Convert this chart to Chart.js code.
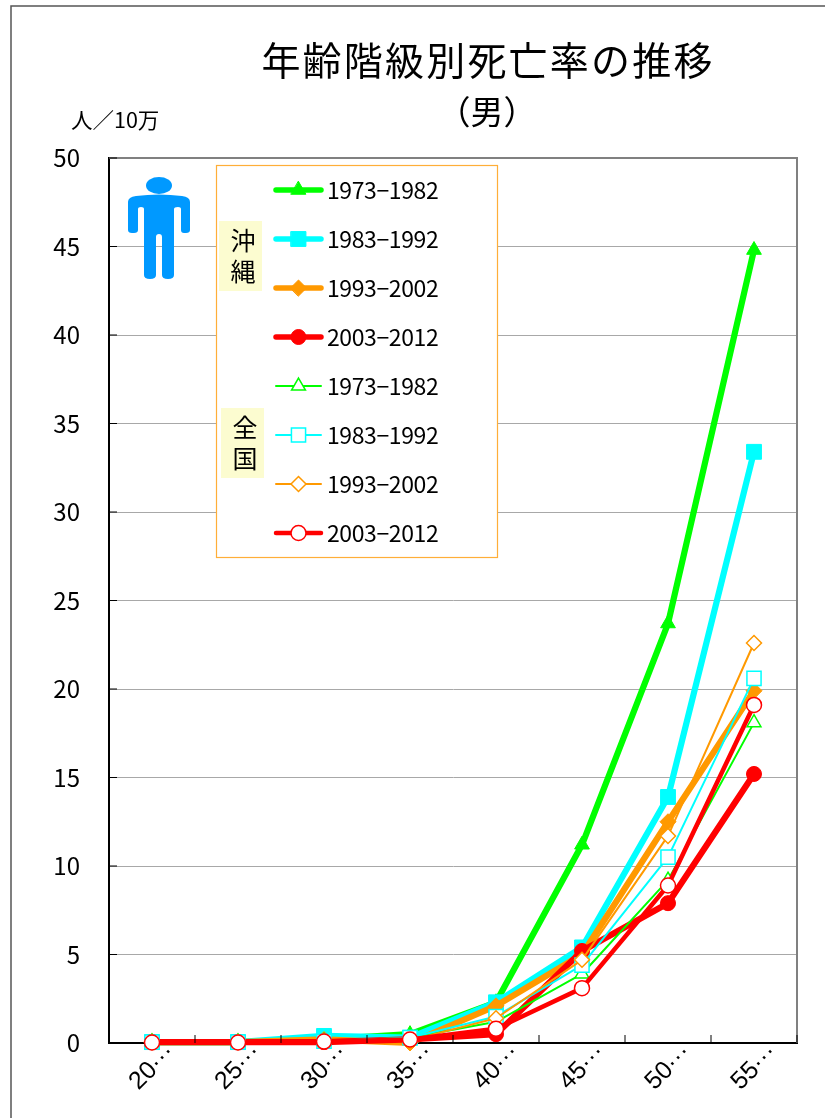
<!DOCTYPE html>
<html lang="ja">
<head>
<meta charset="utf-8">
<title>年齢階級別死亡率の推移</title>
<script src="https://cdn.jsdelivr.net/npm/chart.js@4/dist/chart.umd.js"></script>
<style>
    html, body { margin: 0; padding: 0; background: #fff; overflow: hidden; }
    canvas { display: block; }
</style>
</head>
<body>
<canvas id="chart" width="825" height="1118"></canvas>
<script>
const categories = ['20···', '25···', '30···', '35···', '40···', '45···', '50···', '55···']
const yTicks = [0, 5, 10, 15, 20, 25, 30, 35, 40, 45, 50]

const periods = ['1973−1982', '1983−1992', '1993−2002', '2003−2012']

// 沖縄
const okinawa7382 = [0.05, 0.05, 0.2, 0.5, 2.3, 11.2, 23.7, 44.8]
const okinawa8392 = [0.05, 0.05, 0.4, 0.3, 2.3, 5.4, 13.9, 33.4]
const okinawa9302 = [0.05, 0.05, 0.2, 0.0, 2.1, 5.0, 12.5, 19.9]
const okinawa0312 = [0.05, 0.05, 0.05, 0.2, 0.5, 5.2, 7.9, 15.2]

// 全国
const zenkoku7382 = [0.05, 0.05, 0.1, 0.3, 1.2, 3.9, 9.2, 18.1]
const zenkoku8392 = [0.05, 0.05, 0.1, 0.3, 1.5, 4.4, 10.5, 20.6]
const zenkoku9302 = [0.05, 0.05, 0.1, 0.15, 1.4, 4.7, 11.7, 22.6]
const zenkoku0312 = [0.03, 0.03, 0.08, 0.2, 0.8, 3.1, 8.9, 19.1]

const GREEN = '#00FF00'
const CYAN = '#00FFFF'
const ORANGE = '#FF9900'
const RED = '#FF0000'
const FONT = '"Noto Sans CJK JP", "Liberation Sans", sans-serif'

function serie(label, values, color, style, radius, width, open, order) {
    return {
        label: label,
        data: values,
        borderColor: color,
        backgroundColor: open ? '#fff' : color,
        borderWidth: width,
        borderCapStyle: 'round',
        borderJoinStyle: 'round',
        pointStyle: style,
        pointRadius: radius,
        pointHoverRadius: radius,
        pointBackgroundColor: open ? '#fff' : color,
        pointBorderColor: color,
        pointBorderWidth: open ? 1.5 : 1,
        tension: 0,
        clip: false,
        order: order
    }
}

const datasets = [
    serie(periods[0], okinawa7382, GREEN, 'triangle', 8.5, 6.2, false, 8),
    serie(periods[1], okinawa8392, CYAN, 'rect', 10.5, 6.2, false, 7),
    serie(periods[2], okinawa9302, ORANGE, 'rectRot', 8, 6.2, false, 6),
    serie(periods[3], okinawa0312, RED, 'circle', 7.5, 6.2, false, 5),
    serie(periods[0], zenkoku7382, GREEN, 'triangle', 8, 2, true, 4),
    serie(periods[1], zenkoku8392, CYAN, 'rect', 10, 2, true, 3),
    serie(periods[2], zenkoku9302, ORANGE, 'rectRot', 7.5, 2, true, 2),
    serie(periods[3], zenkoku0312, RED, 'circle', 7.5, 4.5, true, 1)
]

// 枠線、内向きの目盛り
const marcoPlugin = {
    id: 'marco',
    beforeDraw(chart) {
        const ctx = chart.ctx
        ctx.save()
        ctx.fillStyle = '#fff'
        ctx.fillRect(0, 0, chart.width, chart.height)
        ctx.strokeStyle = '#555'
        ctx.lineWidth = 1.5
        ctx.beginPath()
        ctx.moveTo(11, chart.height)
        ctx.lineTo(11, 6)
        ctx.lineTo(chart.width, 6)
        ctx.stroke()
        ctx.restore()
    },
    afterDatasetsDraw(chart) {
        const ctx = chart.ctx
        const area = chart.chartArea
        const x = chart.scales.x
        const y = chart.scales.y
        ctx.save()
        ctx.strokeStyle = '#808080'
        ctx.lineWidth = 2
        ctx.beginPath()
        ctx.moveTo(area.left, area.top)
        ctx.lineTo(area.right, area.top)
        ctx.lineTo(area.right, area.bottom)
        ctx.stroke()
        ctx.strokeStyle = '#000'
        ctx.lineWidth = 1
        ctx.beginPath()
        yTicks.forEach((v) => {
            ctx.moveTo(area.left, y.getPixelForValue(v))
            ctx.lineTo(area.left + 8, y.getPixelForValue(v))
        })
        const paso = (area.right - area.left) / categories.length
        for (let i = 1; i <= categories.length; i++) {
            const px = x.getPixelForValue(i - 1) + paso / 2
            ctx.moveTo(px, area.bottom)
            ctx.lineTo(px, area.bottom - 8)
        }
        ctx.stroke()
        ctx.restore()
    }
}

// titulo, unidad, figura y leyenda
const textosPlugin = {
    id: 'textos',
    afterDraw(chart) {
        const ctx = chart.ctx
        ctx.save()
        ctx.textBaseline = 'middle'
        ctx.fillStyle = '#000'

        ctx.textAlign = 'center'
        ctx.font = '39px ' + FONT
        ctx.letterSpacing = '2.2px'
        ctx.fillText('年齢階級別死亡率の推移', 488, 60)
        ctx.letterSpacing = '0px'
        ctx.font = '33px ' + FONT
        ctx.fillText('（男）', 487, 111)
        ctx.textAlign = 'left'
        ctx.font = '21.5px ' + FONT
        ctx.fillText('人／10万', 71, 120)

        // persona
        ctx.fillStyle = '#0099FF'
        ctx.beginPath()
        ctx.ellipse(159, 185.5, 13, 8.5, 0, 0, Math.PI * 2)
        ctx.fill()
        ctx.fill(new Path2D('M128 202 Q128 197 136 196 Q159 193 182 196 Q190 197 190 202 L190 230 Q190 233 186 233 L184 233 Q181 233 181 230 L181 209 Q181 207 178 207 Q174 207 174 209 L174 275 Q174 279 168 279 Q162 279 162 275 L162 237 Q162 234 159 234 Q156 234 156 237 L156 275 Q156 279 150 279 Q144 279 144 275 L144 209 Q144 207 141 207 Q138 207 138 209 L138 230 Q138 233 134 233 L132 233 Q128 233 128 230 Z'))

        // leyenda
        ctx.fillStyle = '#fff'
        ctx.fillRect(216, 165, 282, 392)
        ctx.strokeStyle = '#FFAE38'
        ctx.lineWidth = 1.2
        ctx.strokeRect(216.5, 165.5, 281, 392)

        ctx.fillStyle = '#FCFCD0'
        ctx.fillRect(219, 221, 43, 70)
        ctx.fillRect(221, 408, 43, 70)
        ctx.fillStyle = '#000'
        ctx.textAlign = 'center'
        ctx.font = '25px ' + FONT
        ctx.fillText('沖', 243, 240)
        ctx.fillText('縄', 243, 271)
        ctx.fillText('全', 245, 427)
        ctx.fillText('国', 245, 458)

        ctx.textAlign = 'left'
        ctx.font = '23px ' + FONT
        ctx.letterSpacing = '-0.4px'
        datasets.forEach((ds, i) => {
            const fila = 190 + i * 49
            ctx.strokeStyle = ds.borderColor
            ctx.lineWidth = Math.min(ds.borderWidth, 5.5)
            ctx.lineCap = 'round'
            ctx.beginPath()
            ctx.moveTo(276, fila)
            ctx.lineTo(321, fila)
            ctx.stroke()
            ctx.fillStyle = ds.pointBackgroundColor
            ctx.strokeStyle = ds.pointBorderColor
            ctx.lineWidth = ds.pointBorderWidth
            Chart.helpers.drawPoint(ctx, {
                pointStyle: ds.pointStyle,
                radius: ds.pointRadius,
                rotation: 0,
                borderWidth: ds.pointBorderWidth
            }, 298.5, fila)
            ctx.fillStyle = '#000'
            ctx.fillText(ds.label, 327, fila)
        })
        ctx.restore()
    }
}

const config = {
    type: 'line',
    data: {
        labels: categories,
        datasets: datasets
    },
    options: {
        responsive: false,
        animation: false,
        layout: {
            padding: { top: 158, right: 28, left: 0, bottom: 0 }
        },
        plugins: {
            legend: { display: false },
            title: { display: false },
            tooltip: { enabled: false }
        },
        scales: {
            x: {
                offset: true,
                grid: { display: false },
                border: { color: '#000', width: 2 },
                afterFit: (scale) => { scale.height = 75 },
                ticks: {
                    color: '#000',
                    minRotation: 45,
                    maxRotation: 45,
                    autoSkip: false,
                    padding: -13,
                    labelOffset: 19,
                    font: { family: '"Liberation Sans", sans-serif', size: 25 }
                }
            },
            y: {
                min: 0,
                max: 50,
                afterFit: (scale) => { scale.width = 109 },
                afterBuildTicks: (scale) => { scale.ticks = yTicks.map((v) => ({ value: v })) },
                grid: { color: '#A8A8A8', lineWidth: 1, drawTicks: false },
                border: { color: '#000', width: 2 },
                ticks: {
                    color: '#000',
                    padding: 29,
                    font: { family: FONT, size: 24 }
                }
            }
        }
    },
    plugins: [marcoPlugin, textosPlugin]
}

const grafico = new Chart(document.getElementById('chart'), config)
</script>
</body>
</html>
